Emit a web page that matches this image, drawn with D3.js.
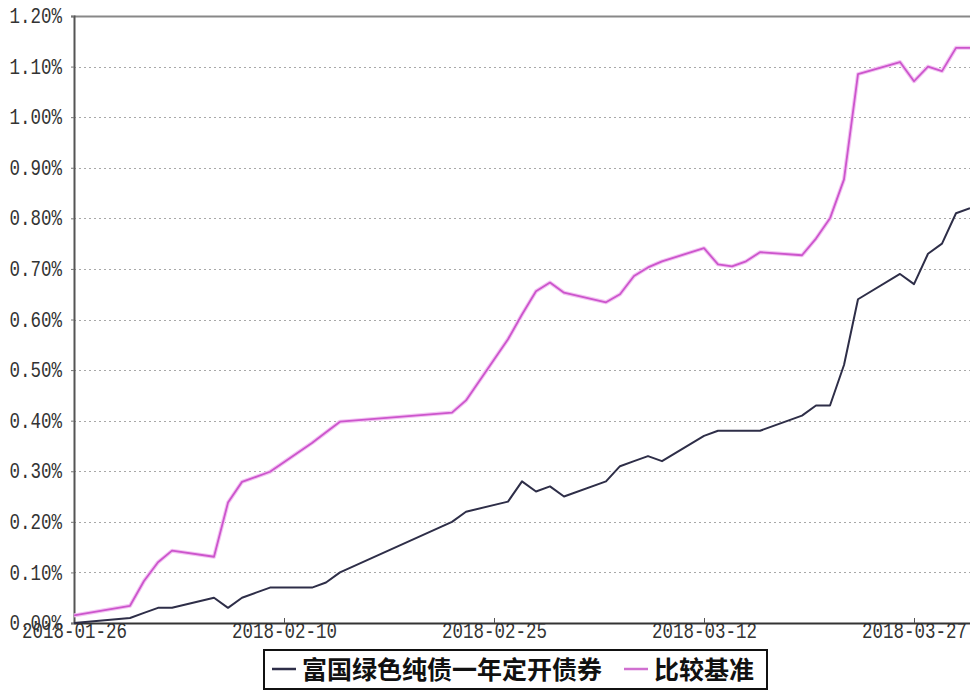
<!DOCTYPE html>
<html>
<head>
<meta charset="utf-8">
<script src="https://cdn.jsdelivr.net/npm/d3@7/dist/d3.min.js"></script>
<style>
    body { margin: 0; background: #fff; }
    #chart { width: 970px; height: 700px; }
</style>
</head>
<body>
<div id="chart"></div>
<script>
// trading dates (last point is the quarter end)
const dates = ['2018-01-26', '2018-01-30', '2018-01-31', '2018-02-01', '2018-02-02',
    '2018-02-05', '2018-02-06', '2018-02-07', '2018-02-08', '2018-02-09',
    '2018-02-12', '2018-02-13', '2018-02-14', '2018-02-22', '2018-02-23',
    '2018-02-26', '2018-02-27', '2018-02-28', '2018-03-01', '2018-03-02',
    '2018-03-05', '2018-03-06', '2018-03-07', '2018-03-08', '2018-03-09',
    '2018-03-12', '2018-03-13', '2018-03-14', '2018-03-15', '2018-03-16',
    '2018-03-19', '2018-03-20', '2018-03-21', '2018-03-22', '2018-03-23',
    '2018-03-26', '2018-03-27', '2018-03-28', '2018-03-29', '2018-03-30',
    '2018-03-31'];

// 富国绿色纯债一年定开债券 (%)
const fundValues = [0.00, 0.01, 0.02, 0.03, 0.03,
    0.05, 0.03, 0.05, 0.06, 0.07,
    0.07, 0.08, 0.10, 0.20, 0.22,
    0.24, 0.28, 0.26, 0.27, 0.25,
    0.28, 0.31, 0.32, 0.33, 0.32,
    0.37, 0.38, 0.38, 0.38, 0.38,
    0.41, 0.43, 0.43, 0.51, 0.64,
    0.69, 0.67, 0.73, 0.75, 0.81,
    0.82];

// 比较基准 (%)
const benchValues = [0.015, 0.034, 0.083, 0.12, 0.143,
    0.131, 0.238, 0.279, 0.289, 0.299,
    0.356, 0.377, 0.398, 0.416, 0.44,
    0.561, 0.61, 0.656, 0.673, 0.653,
    0.634, 0.65, 0.686, 0.703, 0.715,
    0.741, 0.709, 0.705, 0.715, 0.733,
    0.727, 0.76, 0.80, 0.877, 1.085,
    1.109, 1.071, 1.10, 1.091, 1.137,
    1.137];

const xTickLabels = ['2018-01-26', '2018-02-10', '2018-02-25', '2018-03-12', '2018-03-27'];
const yTickValues = [0, 0.1, 0.2, 0.3, 0.4, 0.5, 0.6, 0.7, 0.8, 0.9, 1.0, 1.1, 1.2];

const seriesNames = ['富国绿色纯债一年定开债券', '比较基准'];
const seriesColors = ['#2e2e48', '#cc55cc'];

const width = 970;
const height = 700;
const margin = { top: 16, right: 0, bottom: 77, left: 74 };
const chartWidth = width - margin.left - margin.right;
const chartHeight = height - margin.top - margin.bottom;

const parse = d3.timeParse('%Y-%m-%d');
const fmtDate = d3.timeFormat('%Y-%m-%d');
const points = dates.map((d, i) => ({ date: parse(d), fund: fundValues[i], bench: benchValues[i] }));

const svg = d3.select('#chart')
    .append('svg')
    .attr('width', width)
    .attr('height', height);

const x = d3.scaleTime()
    .domain([parse(dates[0]), parse(dates[dates.length - 1])])
    .range([0, chartWidth]);

const y = d3.scaleLinear()
    .domain([0, 1.2])
    .range([chartHeight, 0]);

const g = svg.append('g')
    .attr('transform', `translate(${margin.left}, ${margin.top})`);

// narrow, tall digits like the original bitmap font
const labelFont = '"Liberation Mono", "DejaVu Sans Mono", monospace';
const charW = 10.5;

// grid lines
g.append('g')
    .selectAll('line')
    .data(yTickValues.slice(1, -1))
    .enter().append('line')
    .attr('x1', 0)
    .attr('x2', chartWidth)
    .attr('y1', d => Math.round(y(d)) + 0.5)
    .attr('y2', d => Math.round(y(d)) + 0.5)
    .style('stroke', '#a8a8a8')
    .style('stroke-width', 1)
    .style('stroke-dasharray', '2,3');

// top border
g.append('line')
    .attr('x1', 0)
    .attr('x2', chartWidth)
    .attr('y1', y(1.2) + 0.5)
    .attr('y2', y(1.2) + 0.5)
    .style('stroke', '#888')
    .style('stroke-width', 2);

// y axis
const yAxis = g.append('g')
    .call(d3.axisLeft(y)
        .tickValues(yTickValues)
        .tickSize(3)
        .tickPadding(9)
        .tickFormat(d => d3.format('.2f')(d) + '%'));
yAxis.select('.domain').style('stroke', '#555').style('stroke-width', 2);
yAxis.selectAll('.tick line').style('stroke', '#777');
yAxis.selectAll('text')
    .style('font-family', labelFont)
    .style('font-size', '22px')
    .style('fill', '#333')
    .attr('dy', '0.3em')
    .attr('textLength', function() { return this.textContent.length * charW; })
    .attr('lengthAdjust', 'spacingAndGlyphs');

// x axis
const xAxis = g.append('g')
    .attr('transform', `translate(0, ${chartHeight})`)
    .call(d3.axisBottom(x)
        .tickValues(xTickLabels.map(parse))
        .tickSizeInner(-5)
        .tickSizeOuter(0)
        .tickPadding(0)
        .tickFormat(fmtDate));
xAxis.select('.domain').style('stroke', '#333').style('stroke-width', 2);
xAxis.selectAll('.tick line').style('stroke', '#555');
xAxis.selectAll('text')
    .style('font-family', labelFont)
    .style('font-size', '22px')
    .style('fill', '#333')
    .attr('dy', '0.68em')
    .attr('textLength', function() { return this.textContent.length * charW; })
    .attr('lengthAdjust', 'spacingAndGlyphs');

// lines
const fundLine = d3.line().x(d => x(d.date)).y(d => y(d.fund));
const benchLine = d3.line().x(d => x(d.date)).y(d => y(d.bench));

g.append('path')
    .datum(points)
    .attr('d', benchLine)
    .style('fill', 'none')
    .style('stroke', '#f3c4f3')
    .style('stroke-width', 4)
    .style('stroke-linejoin', 'round');
g.append('path')
    .datum(points)
    .attr('d', benchLine)
    .style('fill', 'none')
    .style('stroke', seriesColors[1])
    .style('stroke-width', 1.8)
    .style('stroke-linejoin', 'round');

g.append('path')
    .datum(points)
    .attr('d', fundLine)
    .style('fill', 'none')
    .style('stroke', seriesColors[0])
    .style('stroke-width', 2)
    .style('stroke-linejoin', 'round');

// legend
const legend = svg.append('g');
legend.append('rect')
    .attr('x', 264)
    .attr('y', 650)
    .attr('width', 503)
    .attr('height', 39)
    .style('fill', '#fff')
    .style('stroke', '#111')
    .style('stroke-width', 2);

const legendItems = [
    { name: seriesNames[0], color: seriesColors[0], x: 272 },
    { name: seriesNames[1], color: '#d070d0', x: 624 }
];
legendItems.forEach(item => {
    legend.append('line')
        .attr('x1', item.x)
        .attr('x2', item.x + 24)
        .attr('y1', 669)
        .attr('y2', 669)
        .style('stroke', item.color)
        .style('stroke-width', 2.5);
    legend.append('text')
        .attr('x', item.x + 30)
        .attr('y', 679)
        .style('font-family', '"Noto Sans CJK SC", sans-serif')
        .style('font-size', '25px')
        .style('font-weight', 'bold')
        .style('fill', '#111')
        .text(item.name);
});
</script>
</body>
</html>
